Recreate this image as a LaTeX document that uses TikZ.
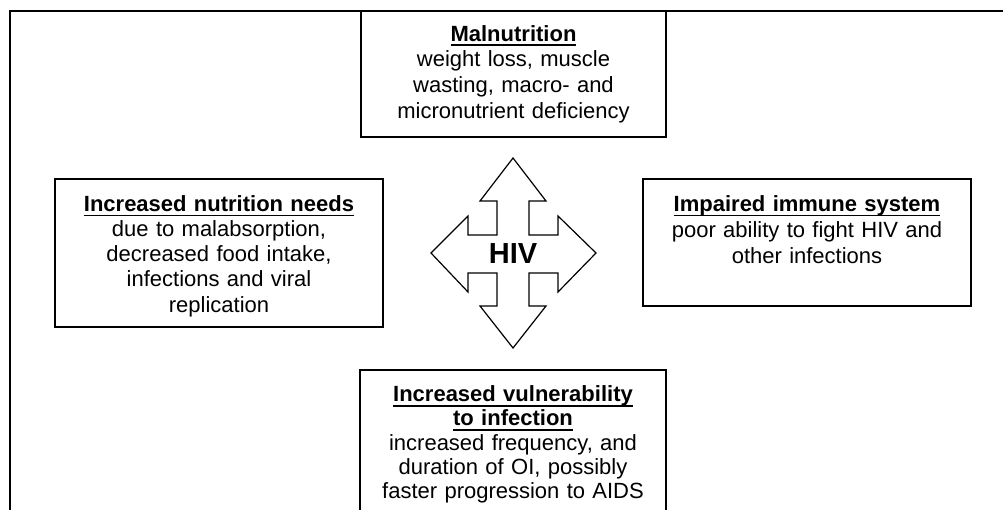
\documentclass[tikz,border=0pt]{standalone}
\usepackage{fontspec}
\setmainfont{Liberation Sans}
\usepackage{tikz}
\newsavebox{\headbox}
\newcommand{\boxfont}[1]{\fontsize{22}{#1}\selectfont}
\newcommand{\boxhead}[1]{\leavevmode\sbox{\headbox}{\textbf{#1}}\rlap{\rule[-5pt]{\wd\headbox}{1.8pt}}\usebox{\headbox}}
\tikzset{
   infobox/.style={draw=black, line width=1.5pt, fill=white, align=center,
                   inner xsep=4pt, inner ysep=6pt},
   frameline/.style={draw=black, line width=1.5pt},
   hivarrow/.style={draw=black, line width=1.2pt, fill=white, line join=miter},
   hivlabel/.style={font=\fontsize{29}{30}\selectfont\bfseries, inner sep=0pt}
}

\begin{document}
\begin{tikzpicture}[x=1pt,y=-1pt]
\useasboundingbox (0,0) rectangle (1003,510);
\clip (0,0) rectangle (1003,510);

% outer frame, open at the right and at the bottom
\draw[frameline] (10,530) -- (10,11) -- (1020,11);

\node[infobox, font=\boxfont{25.7}, minimum width=305pt, minimum height=126pt, text width=290pt] (maln) at (513.5,74)
  {\boxhead{Malnutrition}\\ weight loss, muscle\\ wasting, macro- and\\ micronutrient deficiency};
\node[infobox, font=\boxfont{25.2}, minimum width=328pt, minimum height=148pt, text width=315pt] (needs) at (219,253)
  {\rule{0pt}{22pt}\boxhead{Increased nutrition needs}\\ due to malabsorption,\\ decreased food intake,\\ infections and viral\\ replication};
\node[infobox, font=\boxfont{26}, minimum width=328pt, minimum height=127pt, text width=315pt] (immune) at (807,242.5)
  {\boxhead{Impaired immune system}\\ poor ability to fight HIV and\\ other infections\\ \mbox{}};
\node[infobox, font=\boxfont{24.3}, anchor=north, minimum width=306pt, text width=292pt, inner ysep=16pt] (vuln) at (513,369)
  {\boxhead{Increased vulnerability}\\ \boxhead{to infection}\\ increased frequency, and\\ duration of OI, possibly\\ faster progression to AIDS};

% four-way arrow round HIV
\draw[hivarrow] (513,158) -- (546,201) -- (529,201) -- (529,235) -- (558,235) -- (558,216)
  -- (596,253) -- (558,292) -- (558,273) -- (529,273) -- (529,306) -- (546,306)
  -- (513,348) -- (480,306) -- (497,306) -- (497,273) -- (468,273) -- (468,292)
  -- (431,253) -- (468,216) -- (468,235) -- (497,235) -- (497,201) -- (480,201) -- cycle;
\node[hivlabel] (hiv) at (513,254) {HIV};
\end{tikzpicture}
\end{document}
